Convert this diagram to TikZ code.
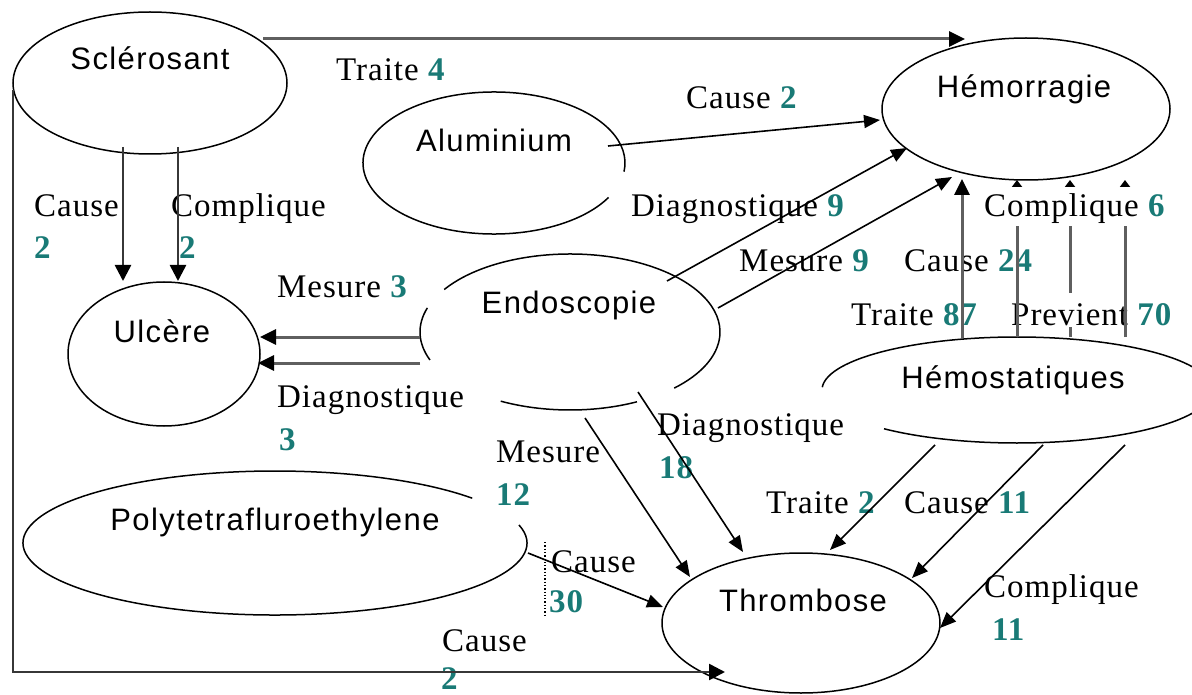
\documentclass[tikz,border=0pt]{standalone}
\usepackage{fontspec}
\setmainfont{Liberation Serif}[LetterSpace=3]
\newfontfamily\sansf{Liberation Sans}[LetterSpace=4.5]
\usetikzlibrary{arrows.meta,calc,shapes.geometric}
\definecolor{numc}{RGB}{25,122,118}
\definecolor{glinec}{RGB}{95,95,95}
\definecolor{dlinec}{RGB}{55,55,55}
\newcommand\numb[1]{{\bfseries\color{numc}#1}}
\begin{document}
\begin{tikzpicture}[x=1pt,y=-1pt,
  ellnode/.style={ellipse, inner sep=0pt, outer sep=0pt},
  eline/.style={line width=1.5pt, draw=black},
  etext/.style={anchor=base, inner sep=0pt, font=\sansf\fontsize{31}{37}\selectfont},
  lbl/.style={anchor=base west, inner sep=0pt, font=\fontsize{33}{43}\selectfont},
  blk/.style={line width=1.6pt, black, -{Triangle[length=16pt,width=13pt]}},
  gry/.style={line width=3pt, glinec, -{Triangle[length=16pt,width=15pt,color=black]}},
  dgry/.style={line width=2.6pt, dlinec, -{Triangle[length=16pt,width=16pt,color=black]}},
  sgry/.style={line width=3pt, glinec, -{Triangle[length=7pt,width=10pt,color=black]}}
]
\useasboundingbox (0,0) rectangle (1192,695);
\clip (0,0) rectangle (1192,695);
\fill[white] (0,0) rectangle (1192,695);

% ellipses
\node[ellnode, eline, minimum width=274pt, minimum height=142pt] (scl) at (150,83) {};
\node[ellnode, eline, minimum width=288pt, minimum height=142pt] (hemo) at (1026,109) {};
\node[ellnode, minimum width=262pt, minimum height=142pt] (alu) at (494,163) {};
\draw[eline] ($(alu.center)+(29:131 and 71)$) arc[start angle=29, end angle=367, x radius=131, y radius=71];
\node[ellnode, eline, minimum width=192pt, minimum height=144pt] (ulc) at (164,354) {};
\node[ellnode, minimum width=300pt, minimum height=156pt] (endo) at (570,332) {};
\draw[eline] ($(endo.center)+(213:150 and 78)$) arc[start angle=213, end angle=406, x radius=150, y radius=78];
\draw[eline] ($(endo.center)+(159:150 and 78)$) arc[start angle=159, end angle=198, x radius=150, y radius=78];
\draw[eline] ($(endo.center)+(63.5:150 and 78)$) arc[start angle=63.5, end angle=117.5, x radius=150, y radius=78];
\node[ellnode, minimum width=390pt, minimum height=106pt] (hemost) at (1017,390) {};
\draw[eline] ($(hemost.center)+(183:195 and 53)$) arc[start angle=183, end angle=493, x radius=195, y radius=53];
\node[ellnode, minimum width=504pt, minimum height=144pt] (poly) at (275,543) {};
\draw[eline] ($(poly.center)+(345.5:252 and 72)$) arc[start angle=345.5, end angle=681.5, x radius=252, y radius=72];
\node[ellnode, eline, minimum width=278pt, minimum height=140pt] (thromb) at (801,623) {};

% ellipse texts
\node[etext] (scl-t) at (150,70) {Sclérosant};
\node[etext] (hemo-t) at (1024,98) {Hémorragie};
\node[etext] (alu-t) at (494,152) {Aluminium};
\node[etext] (ulc-t) at (162,342) {Ulcère};
\node[etext] (endo-t) at (569,313) {Endoscopie};
\node[etext] (hemost-t) at (1013,388) {Hémostatiques};
\node[etext] (poly-t) at (275,530) {Polytetrafluroethylene};
\node[etext] (thromb-t) at (803,611) {Thrombose};

% labels
\node[lbl] (l1) at (336,81) {Traite \numb{4}};
\node[lbl] (l2) at (686,109) {Cause \numb{2}};
\node[lbl] (l3) at (34,217) {Cause};
\node[lbl] (l3n) at (34,259) {\numb{2}};
\node[lbl] (l4) at (171,217) {Complique};
\node[lbl] (l4n) at (179,259) {\numb{2}};
\node[lbl] (l5) at (277,298) {Mesure \numb{3}};
\node[lbl] (l6) at (277,407) {Diagnostique};
\node[lbl] (l6n) at (279,450) {\numb{3}};
\node[lbl] (l7) at (631,217) {Diagnostique \numb{9}};
\node[lbl] (l8) at (739,272) {Mesure \numb{9}};
\node[lbl] (l9) at (904,272) {Cause \numb{24}};
\node[lbl] (l11) at (851,325) {Traite \numb{87}};
\node[lbl] (l13) at (657,435) {Diagnostique};
\node[lbl] (l13n) at (659,478) {\numb{18}};
\node[lbl] (l14) at (496,462) {Mesure};
\node[lbl] (l14n) at (496,505) {\numb{12}};
\node[lbl] (l15) at (551,572) {Cause};
\node[lbl] (l15n) at (549,612) {\numb{30}};
\node[lbl] (l16) at (766,513) {Traite \numb{2}};
\node[lbl] (l17) at (904,513) {Cause \numb{11}};
\node[lbl] (l18) at (984,597) {Complique};
\node[lbl] (l18n) at (992,640) {\numb{11}};
\node[lbl] (l19) at (442,651) {Cause};
\node[lbl] (l19n) at (441,689) {\numb{2}};
\draw[dotted, line width=1.3pt] ($(l15.base west)+(-6,-30)$) -- ($(l15.base west)+(-6,45)$);

% connectors
\draw[gry] ($(scl.center)+(113,-44)$) -- ($(hemo.center)+(-61,-70)$);
\draw[blk] ($(alu.center)+(114,-17)$) -- ($(hemo.center)+(-146,11)$);
\draw[dgry] ($(scl.center)+(-27,64)$) -- ($(ulc.center)+(-41,-73)$);
\draw[dgry] ($(scl.center)+(28,64)$) -- ($(ulc.center)+(14,-73)$);
\draw[gry] ($(endo.center)+(-150,5)$) -- ($(ulc.center)+(96,-17)$);
\draw[gry] ($(endo.center)+(-150,31)$) -- ($(ulc.center)+(94,9)$);
\draw[blk] ($(endo.center)+(97,-51)$) -- ($(hemo.center)+(-119,39)$);
\draw[blk] ($(endo.center)+(148,-24)$) -- ($(hemo.center)+(-74,68)$);
\draw[blk] ($(endo.center)+(68,60)$) -- ($(thromb.center)+(-58,-71)$);
\draw[blk] ($(endo.center)+(15,86)$) -- ($(thromb.center)+(-111,-46)$);
\draw[blk] ($(poly.center)+(253,10)$) -- ($(thromb.center)+(-138,-16)$);
\draw[dgry] ($(scl.center)+(-137,7)$) |- ($(thromb.center)+(-76,49)$);
\draw[blk] ($(hemost.center)+(-82,55)$) -- ($(thromb.center)+(29,-73)$);
\draw[blk] ($(hemost.center)+(26,55)$) -- ($(thromb.center)+(111,-45)$);
\draw[blk] ($(hemost.center)+(108,55)$) -- ($(thromb.center)+(139,5)$);

\draw[sgry] ($(hemost.center)+(53,-53)$) -- ($(hemo.center)+(44,71)$);
\node[lbl, fill=white, text height=32pt, text depth=2pt] (l12) at (1011,325) {Previent \numb{70}};
\draw[sgry] ($(hemost.center)+(0,-53)$) -- ($(hemo.center)+(-9,71)$);
\draw[sgry] ($(hemost.center)+(108,-53)$) -- ($(hemo.center)+(99,71)$);
\draw[gry] ($(hemost.center)+(-55,-52)$) -- ($(hemo.center)+(-64,70)$);
\node[lbl, fill=white, inner xsep=4pt, text height=30pt, text depth=9pt] (l10) at (980,217) {Complique \numb{6}};
\end{tikzpicture}
\end{document}
